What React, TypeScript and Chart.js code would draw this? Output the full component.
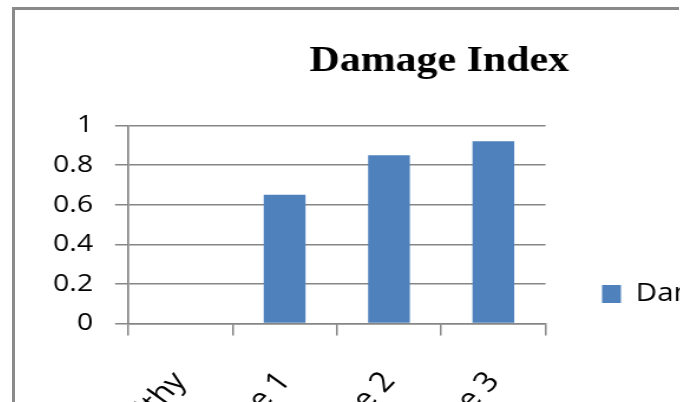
import React, { useEffect, useRef } from "react";
import { Chart, registerables } from "chart.js";

Chart.register(...registerables);

const categories: string[] = ["Healthy", "Damage 1", "Damage 2", "Damage 3"];
const seriesName = "Damage Index";
const damageValues: number[] = [0, 0.65, 0.85, 0.92];
const yTickLabels: string[] = ["0", "0.2", "0.4", "0.6", "0.8", "1"];
const chartTitle = "Damage Index";

// layout (canvas units; the canvas is stretched horizontally by SX)
const SX = 1.18;
const CW = 719;
const CH = 568;
const PLOT_LEFT = 95.8;
const PLOT_RIGHT = 449.6;
const PLOT_BOTTOM = 313.5;
const LEGEND_BOX_X = 497.5;
const LEGEND_FONT = 25;
const LEGEND_BOX_W = 16;
const LEGEND_BOX_H = 18;
const TICK_FONT = 24;
const XTICK_FONT = 28;
const GRID = "#868686";
const BAR = "#4F81BD";
const FAMILY = '"Open Sans", sans-serif';

// give the right-hand legend a fixed width so the plot ends where the reference's does
const legendWidthPlugin = {
  id: "legendWidth",
  beforeLayout(chart: any) {
    const lg = chart.legend;
    if (lg && !lg.__fixedWidth) {
      const orig = lg.fit.bind(lg);
      lg.fit = function () {
        orig();
        this.width = CW - PLOT_RIGHT;
      };
      lg.__fixedWidth = true;
    }
  },
};

export default function App() {
  const ref = useRef<HTMLCanvasElement | null>(null);

  useEffect(() => {
    const canvas = ref.current;
    if (!canvas) return;

    const chart = new Chart(canvas, {
      type: "bar",
      data: {
        labels: categories,
        datasets: [
          {
            label: seriesName,
            data: damageValues,
            backgroundColor: BAR,
            borderWidth: 0,
            barPercentage: 0.4,
            categoryPercentage: 1,
          },
        ],
      },
      options: {
        responsive: false,
        animation: false,
        devicePixelRatio: 1,
        layout: { padding: 0 },
        plugins: {
          title: {
            display: true,
            text: chartTitle,
            color: "#000",
            font: { family: '"Liberation Serif", "Times New Roman", serif', size: 35.5, weight: "bold", lineHeight: 1.2 },
            padding: { top: 31, bottom: 41.9 },
          },
          legend: {
            display: true,
            position: "right",
            align: "center",
            labels: {
              color: "#000",
              font: { family: FAMILY, size: LEGEND_FONT },
              boxWidth: LEGEND_BOX_W,
              boxHeight: LEGEND_BOX_H,
              padding: LEGEND_BOX_X - PLOT_RIGHT,
            },
          },
          tooltip: { enabled: false },
        },
        scales: {
          x: {
            offset: true,
            grid: {
              display: true,
              offset: true,
              drawOnChartArea: false,
              drawTicks: true,
              tickLength: 12,
              color: GRID,
              lineWidth: 1.5,
            },
            border: { display: true, color: GRID, width: 1.5 },
            ticks: {
              color: "#000",
              font: { family: FAMILY, size: XTICK_FONT },
              minRotation: 50,
              maxRotation: 50,
              autoSkip: false,
              padding: 30,
            },
            afterFit: (s: any) => {
              s.height = CH - PLOT_BOTTOM;
            },
          },
          y: {
            min: 0,
            max: 1,
            grid: {
              color: GRID,
              lineWidth: 1.5,
              drawTicks: true,
              tickLength: 11,
            },
            border: { display: true, color: GRID, width: 1.7 },
            ticks: {
              stepSize: 0.2,
              color: "#000",
              font: { family: FAMILY, size: TICK_FONT },
              padding: 18.7,
              callback: (_v: any, i: number) => yTickLabels[i],
            },
            afterFit: (s: any) => {
              s.width = PLOT_LEFT;
            },
          },
        },
      },
      plugins: [legendWidthPlugin],
    });
    return () => chart.destroy();
  }, []);

  return (
    <div style={{ position: "fixed", left: 0, top: 0, width: 680, height: 402, overflow: "hidden", background: "#fff" }}>
      <div
        style={{
          position: "absolute",
          left: 12,
          top: 7,
          width: 664,
          height: 420,
          borderTop: "3px solid #8a8a8a",
          borderLeft: "3px solid #8a8a8a",
        }}
      />
      <div
        style={{
          position: "absolute",
          left: 15,
          top: 10,
          width: CW,
          height: CH,
          transform: `scaleX(${SX})`,
          transformOrigin: "0 0",
        }}
      >
        <canvas ref={ref} width={CW} height={CH} style={{ width: CW, height: CH, display: "block" }} />
      </div>
    </div>
  );
}
